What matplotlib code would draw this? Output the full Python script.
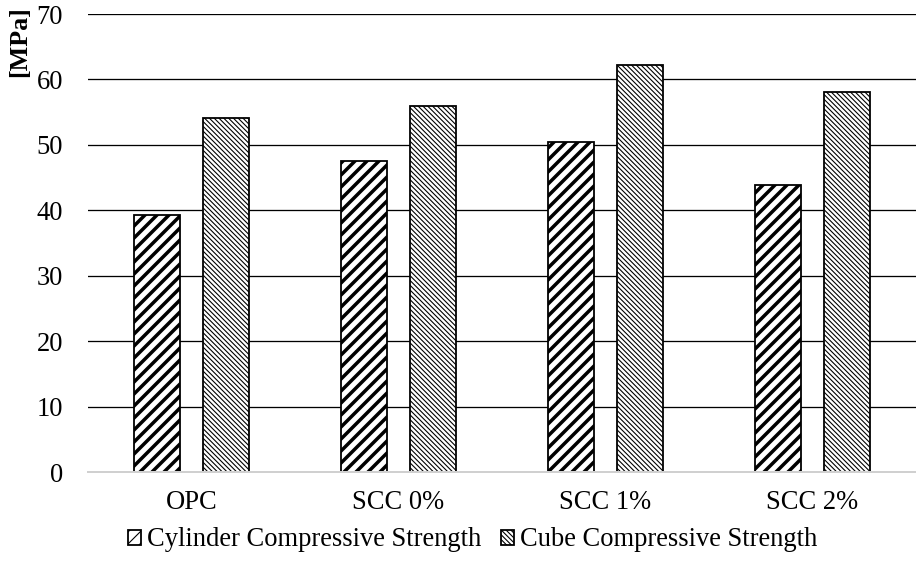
import numpy as np
import matplotlib
matplotlib.use("Agg")
import matplotlib.pyplot as plt

categories = ["OPC", "SCC 0%", "SCC 1%", "SCC 2%"]
cylinder = [39.3, 47.5, 50.5, 43.9]
cube = [54.1, 56.0, 62.2, 58.1]
series_names = ["Cylinder Compressive Strength", "Cube Compressive Strength"]

plt.rcParams["font.family"] = ["Liberation Serif", "DejaVu Serif"]
plt.rcParams["font.size"] = 26.5
plt.rcParams["hatch.color"] = "black"

# dpi 72 so that points == pixels
fig = plt.figure(figsize=(916 / 72, 561 / 72), dpi=72)
ax = fig.add_axes([88 / 916, 1 - 472 / 561, 828 / 916, 458 / 561])

x = np.arange(len(categories))
w = 0.22
off = 0.166

plt.rcParams["hatch.linewidth"] = 3.5
b1 = ax.bar(x - off, cylinder, w, color="white", edgecolor="black",
            linewidth=1.8, hatch="//", label=series_names[0], zorder=3)
plt.rcParams["hatch.linewidth"] = 1.1
b2 = ax.bar(x + off, cube, w, color="white", edgecolor="black",
            linewidth=1.8, hatch="\\\\\\\\\\", label=series_names[1], zorder=3)

for p in b1:
    if hasattr(p, "set_hatch_linewidth"):
        p.set_hatch_linewidth(3.5)
for p in b2:
    if hasattr(p, "set_hatch_linewidth"):
        p.set_hatch_linewidth(1.1)

ax.set_xlim(-0.5, 3.5)
ax.set_ylim(0, 70)
ax.set_yticks(range(0, 71, 10))
ax.set_xticks(x)
ax.set_xticklabels(categories)
ax.tick_params(axis="both", length=0)
ax.tick_params(axis="y", pad=25)
ax.tick_params(axis="x", pad=18)

ax.yaxis.grid(True, color="black", linewidth=1.3, zorder=0)
ax.set_axisbelow(True)
for s in ["top", "right", "left"]:
    ax.spines[s].set_visible(False)
ax.spines["bottom"].set_color("#d0d0d0")
ax.spines["bottom"].set_linewidth(2)
ax.spines["bottom"].set_zorder(4)

fig.text(20 / 916, 1 - 42 / 561, "[MPa]", rotation=90, fontweight="bold",
         ha="center", va="center", fontsize=26)

fig.legend(handles=[b1, b2], labels=series_names, loc="center left",
           bbox_to_anchor=(128 / 916, 1 - 540 / 561), ncol=2, frameon=False,
           handlelength=0.49, handleheight=0.49, handletextpad=0.23,
           columnspacing=0.75, borderpad=0, borderaxespad=0)

fig.savefig("out.png", dpi=72)
